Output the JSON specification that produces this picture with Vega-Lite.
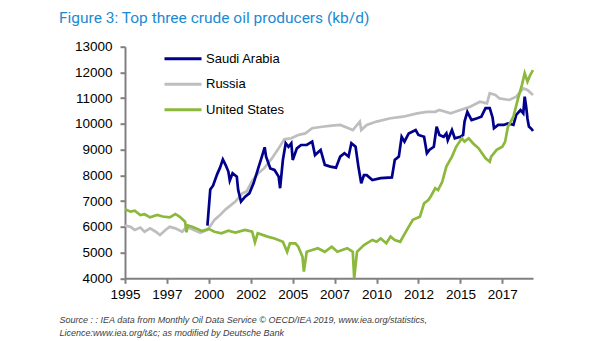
{
  "$schema": "https://vega.github.io/schema/vega-lite/v6.json",
  "width": 408,
  "height": 231.6,
  "autosize": {"type": "none"},
  "padding": {"left": 125, "top": 46.7, "right": 72, "bottom": 62.7},
  "background": "white",
  "title": {
    "text": "Figure 3: Top three crude oil producers (kb/d)",
    "anchor": "start",
    "frame": "group",
    "dx": -66,
    "offset": 1,
    "baseline": "alphabetic",
    "font": "Roboto",
    "fontSize": 15.5,
    "fontWeight": "normal",
    "color": "#1A8AD4"
  },
  "data": {
    "values": [
      {"country": "Russia", "month": "1995-01", "kbd": 6050},
      {"country": "Russia", "month": "1995-05", "kbd": 6000},
      {"country": "Russia", "month": "1995-08", "kbd": 5880},
      {"country": "Russia", "month": "1995-12", "kbd": 5970},
      {"country": "Russia", "month": "1996-03", "kbd": 5810},
      {"country": "Russia", "month": "1996-07", "kbd": 5940},
      {"country": "Russia", "month": "1996-11", "kbd": 5810},
      {"country": "Russia", "month": "1997-02", "kbd": 5680},
      {"country": "Russia", "month": "1997-06", "kbd": 5880},
      {"country": "Russia", "month": "1997-09", "kbd": 6000},
      {"country": "Russia", "month": "1998-01", "kbd": 5940},
      {"country": "Russia", "month": "1998-06", "kbd": 5810},
      {"country": "Russia", "month": "1998-09", "kbd": 6000},
      {"country": "Russia", "month": "1999-01", "kbd": 5910},
      {"country": "Russia", "month": "1999-07", "kbd": 5770},
      {"country": "Russia", "month": "1999-12", "kbd": 5880},
      {"country": "Russia", "month": "2000-02", "kbd": 6030},
      {"country": "Russia", "month": "2000-05", "kbd": 6270},
      {"country": "Russia", "month": "2000-09", "kbd": 6460},
      {"country": "Russia", "month": "2001-01", "kbd": 6680},
      {"country": "Russia", "month": "2001-08", "kbd": 6980},
      {"country": "Russia", "month": "2002-01", "kbd": 7300},
      {"country": "Russia", "month": "2002-04", "kbd": 7370},
      {"country": "Russia", "month": "2002-08", "kbd": 7780},
      {"country": "Russia", "month": "2002-12", "kbd": 8060},
      {"country": "Russia", "month": "2003-05", "kbd": 8300},
      {"country": "Russia", "month": "2003-10", "kbd": 8650},
      {"country": "Russia", "month": "2004-03", "kbd": 9050},
      {"country": "Russia", "month": "2004-07", "kbd": 9400},
      {"country": "Russia", "month": "2004-12", "kbd": 9440},
      {"country": "Russia", "month": "2005-05", "kbd": 9570},
      {"country": "Russia", "month": "2005-10", "kbd": 9630},
      {"country": "Russia", "month": "2006-03", "kbd": 9830},
      {"country": "Russia", "month": "2006-10", "kbd": 9890},
      {"country": "Russia", "month": "2007-05", "kbd": 9930},
      {"country": "Russia", "month": "2007-11", "kbd": 9960},
      {"country": "Russia", "month": "2008-05", "kbd": 9830},
      {"country": "Russia", "month": "2008-08", "kbd": 9760},
      {"country": "Russia", "month": "2009-01", "kbd": 10090},
      {"country": "Russia", "month": "2009-02", "kbd": 9760},
      {"country": "Russia", "month": "2009-06", "kbd": 9960},
      {"country": "Russia", "month": "2010-01", "kbd": 10090},
      {"country": "Russia", "month": "2010-11", "kbd": 10220},
      {"country": "Russia", "month": "2011-08", "kbd": 10280},
      {"country": "Russia", "month": "2012-06", "kbd": 10410},
      {"country": "Russia", "month": "2013-01", "kbd": 10470},
      {"country": "Russia", "month": "2013-07", "kbd": 10470},
      {"country": "Russia", "month": "2013-10", "kbd": 10540},
      {"country": "Russia", "month": "2014-06", "kbd": 10410},
      {"country": "Russia", "month": "2015-01", "kbd": 10540},
      {"country": "Russia", "month": "2015-08", "kbd": 10670},
      {"country": "Russia", "month": "2016-03", "kbd": 10860},
      {"country": "Russia", "month": "2016-08", "kbd": 10800},
      {"country": "Russia", "month": "2016-10", "kbd": 11190},
      {"country": "Russia", "month": "2017-02", "kbd": 11120},
      {"country": "Russia", "month": "2017-05", "kbd": 10990},
      {"country": "Russia", "month": "2017-12", "kbd": 10930},
      {"country": "Russia", "month": "2018-05", "kbd": 11060},
      {"country": "Russia", "month": "2018-10", "kbd": 11380},
      {"country": "Russia", "month": "2019-01", "kbd": 11320},
      {"country": "Russia", "month": "2019-05", "kbd": 11120},

      {"country": "Saudi Arabia", "month": "1999-12", "kbd": 6050},
      {"country": "Saudi Arabia", "month": "2000-02", "kbd": 7450},
      {"country": "Saudi Arabia", "month": "2000-04", "kbd": 7600},
      {"country": "Saudi Arabia", "month": "2000-07", "kbd": 8050},
      {"country": "Saudi Arabia", "month": "2000-09", "kbd": 8300},
      {"country": "Saudi Arabia", "month": "2000-11", "kbd": 8620},
      {"country": "Saudi Arabia", "month": "2001-01", "kbd": 8400},
      {"country": "Saudi Arabia", "month": "2001-03", "kbd": 8150},
      {"country": "Saudi Arabia", "month": "2001-04", "kbd": 7800},
      {"country": "Saudi Arabia", "month": "2001-06", "kbd": 8080},
      {"country": "Saudi Arabia", "month": "2001-09", "kbd": 7950},
      {"country": "Saudi Arabia", "month": "2001-10", "kbd": 7430},
      {"country": "Saudi Arabia", "month": "2001-12", "kbd": 6980},
      {"country": "Saudi Arabia", "month": "2002-03", "kbd": 7170},
      {"country": "Saudi Arabia", "month": "2002-06", "kbd": 7300},
      {"country": "Saudi Arabia", "month": "2002-09", "kbd": 7690},
      {"country": "Saudi Arabia", "month": "2002-12", "kbd": 8210},
      {"country": "Saudi Arabia", "month": "2003-03", "kbd": 8730},
      {"country": "Saudi Arabia", "month": "2003-05", "kbd": 9090},
      {"country": "Saudi Arabia", "month": "2003-06", "kbd": 8730},
      {"country": "Saudi Arabia", "month": "2003-09", "kbd": 8270},
      {"country": "Saudi Arabia", "month": "2003-12", "kbd": 8210},
      {"country": "Saudi Arabia", "month": "2004-03", "kbd": 7950},
      {"country": "Saudi Arabia", "month": "2004-04", "kbd": 7500},
      {"country": "Saudi Arabia", "month": "2004-06", "kbd": 8600},
      {"country": "Saudi Arabia", "month": "2004-08", "kbd": 9250},
      {"country": "Saudi Arabia", "month": "2004-10", "kbd": 9110},
      {"country": "Saudi Arabia", "month": "2004-12", "kbd": 9250},
      {"country": "Saudi Arabia", "month": "2005-01", "kbd": 8600},
      {"country": "Saudi Arabia", "month": "2005-04", "kbd": 9050},
      {"country": "Saudi Arabia", "month": "2005-07", "kbd": 9180},
      {"country": "Saudi Arabia", "month": "2005-11", "kbd": 9180},
      {"country": "Saudi Arabia", "month": "2006-03", "kbd": 9310},
      {"country": "Saudi Arabia", "month": "2006-05", "kbd": 8790},
      {"country": "Saudi Arabia", "month": "2006-09", "kbd": 8990},
      {"country": "Saudi Arabia", "month": "2006-12", "kbd": 8410},
      {"country": "Saudi Arabia", "month": "2007-04", "kbd": 8340},
      {"country": "Saudi Arabia", "month": "2007-08", "kbd": 8300},
      {"country": "Saudi Arabia", "month": "2007-11", "kbd": 8730},
      {"country": "Saudi Arabia", "month": "2008-02", "kbd": 8860},
      {"country": "Saudi Arabia", "month": "2008-05", "kbd": 8730},
      {"country": "Saudi Arabia", "month": "2008-07", "kbd": 9250},
      {"country": "Saudi Arabia", "month": "2008-10", "kbd": 9110},
      {"country": "Saudi Arabia", "month": "2008-12", "kbd": 8340},
      {"country": "Saudi Arabia", "month": "2009-02", "kbd": 7690},
      {"country": "Saudi Arabia", "month": "2009-04", "kbd": 8010},
      {"country": "Saudi Arabia", "month": "2009-06", "kbd": 8010},
      {"country": "Saudi Arabia", "month": "2009-10", "kbd": 7820},
      {"country": "Saudi Arabia", "month": "2010-04", "kbd": 7890},
      {"country": "Saudi Arabia", "month": "2010-12", "kbd": 7920},
      {"country": "Saudi Arabia", "month": "2011-02", "kbd": 8600},
      {"country": "Saudi Arabia", "month": "2011-05", "kbd": 8730},
      {"country": "Saudi Arabia", "month": "2011-07", "kbd": 9500},
      {"country": "Saudi Arabia", "month": "2011-09", "kbd": 9310},
      {"country": "Saudi Arabia", "month": "2011-12", "kbd": 9630},
      {"country": "Saudi Arabia", "month": "2012-05", "kbd": 9760},
      {"country": "Saudi Arabia", "month": "2012-07", "kbd": 9570},
      {"country": "Saudi Arabia", "month": "2012-11", "kbd": 9500},
      {"country": "Saudi Arabia", "month": "2013-01", "kbd": 8860},
      {"country": "Saudi Arabia", "month": "2013-03", "kbd": 9000},
      {"country": "Saudi Arabia", "month": "2013-06", "kbd": 9110},
      {"country": "Saudi Arabia", "month": "2013-08", "kbd": 9890},
      {"country": "Saudi Arabia", "month": "2013-10", "kbd": 9570},
      {"country": "Saudi Arabia", "month": "2014-01", "kbd": 9500},
      {"country": "Saudi Arabia", "month": "2014-03", "kbd": 9630},
      {"country": "Saudi Arabia", "month": "2014-04", "kbd": 9370},
      {"country": "Saudi Arabia", "month": "2014-07", "kbd": 9760},
      {"country": "Saudi Arabia", "month": "2014-09", "kbd": 9440},
      {"country": "Saudi Arabia", "month": "2015-01", "kbd": 9500},
      {"country": "Saudi Arabia", "month": "2015-03", "kbd": 9570},
      {"country": "Saudi Arabia", "month": "2015-04", "kbd": 10090},
      {"country": "Saudi Arabia", "month": "2015-06", "kbd": 10470},
      {"country": "Saudi Arabia", "month": "2015-09", "kbd": 10150},
      {"country": "Saudi Arabia", "month": "2016-01", "kbd": 10220},
      {"country": "Saudi Arabia", "month": "2016-04", "kbd": 10280},
      {"country": "Saudi Arabia", "month": "2016-07", "kbd": 10610},
      {"country": "Saudi Arabia", "month": "2016-10", "kbd": 10610},
      {"country": "Saudi Arabia", "month": "2016-12", "kbd": 10250},
      {"country": "Saudi Arabia", "month": "2017-01", "kbd": 9830},
      {"country": "Saudi Arabia", "month": "2017-04", "kbd": 9960},
      {"country": "Saudi Arabia", "month": "2017-08", "kbd": 9960},
      {"country": "Saudi Arabia", "month": "2017-11", "kbd": 10020},
      {"country": "Saudi Arabia", "month": "2018-03", "kbd": 9960},
      {"country": "Saudi Arabia", "month": "2018-05", "kbd": 10350},
      {"country": "Saudi Arabia", "month": "2018-08", "kbd": 10540},
      {"country": "Saudi Arabia", "month": "2018-10", "kbd": 10410},
      {"country": "Saudi Arabia", "month": "2018-11", "kbd": 11060},
      {"country": "Saudi Arabia", "month": "2018-12", "kbd": 10700},
      {"country": "Saudi Arabia", "month": "2019-01", "kbd": 10200},
      {"country": "Saudi Arabia", "month": "2019-02", "kbd": 9900},
      {"country": "Saudi Arabia", "month": "2019-04", "kbd": 9800},
      {"country": "Saudi Arabia", "month": "2019-05", "kbd": 9720},

      {"country": "United States", "month": "1995-01", "kbd": 6680},
      {"country": "United States", "month": "1995-05", "kbd": 6590},
      {"country": "United States", "month": "1995-08", "kbd": 6630},
      {"country": "United States", "month": "1995-12", "kbd": 6460},
      {"country": "United States", "month": "1996-03", "kbd": 6490},
      {"country": "United States", "month": "1996-07", "kbd": 6370},
      {"country": "United States", "month": "1996-12", "kbd": 6460},
      {"country": "United States", "month": "1997-04", "kbd": 6400},
      {"country": "United States", "month": "1997-09", "kbd": 6370},
      {"country": "United States", "month": "1998-01", "kbd": 6500},
      {"country": "United States", "month": "1998-04", "kbd": 6400},
      {"country": "United States", "month": "1998-08", "kbd": 6200},
      {"country": "United States", "month": "1998-09", "kbd": 5790},
      {"country": "United States", "month": "1998-10", "kbd": 6050},
      {"country": "United States", "month": "1999-01", "kbd": 6000},
      {"country": "United States", "month": "1999-04", "kbd": 5940},
      {"country": "United States", "month": "1999-08", "kbd": 5840},
      {"country": "United States", "month": "2000-01", "kbd": 5920},
      {"country": "United States", "month": "2000-05", "kbd": 5810},
      {"country": "United States", "month": "2000-10", "kbd": 5750},
      {"country": "United States", "month": "2001-03", "kbd": 5850},
      {"country": "United States", "month": "2001-08", "kbd": 5780},
      {"country": "United States", "month": "2002-03", "kbd": 5880},
      {"country": "United States", "month": "2002-08", "kbd": 5810},
      {"country": "United States", "month": "2002-10", "kbd": 5400},
      {"country": "United States", "month": "2002-12", "kbd": 5750},
      {"country": "United States", "month": "2003-07", "kbd": 5620},
      {"country": "United States", "month": "2003-12", "kbd": 5550},
      {"country": "United States", "month": "2004-06", "kbd": 5420},
      {"country": "United States", "month": "2004-09", "kbd": 5030},
      {"country": "United States", "month": "2004-11", "kbd": 5360},
      {"country": "United States", "month": "2005-03", "kbd": 5360},
      {"country": "United States", "month": "2005-05", "kbd": 5230},
      {"country": "United States", "month": "2005-08", "kbd": 4840},
      {"country": "United States", "month": "2005-09", "kbd": 4260},
      {"country": "United States", "month": "2005-11", "kbd": 5030},
      {"country": "United States", "month": "2006-03", "kbd": 5100},
      {"country": "United States", "month": "2006-07", "kbd": 5170},
      {"country": "United States", "month": "2006-12", "kbd": 5030},
      {"country": "United States", "month": "2007-05", "kbd": 5230},
      {"country": "United States", "month": "2007-09", "kbd": 5030},
      {"country": "United States", "month": "2008-04", "kbd": 5170},
      {"country": "United States", "month": "2008-08", "kbd": 5030},
      {"country": "United States", "month": "2008-09", "kbd": 4000},
      {"country": "United States", "month": "2008-11", "kbd": 5030},
      {"country": "United States", "month": "2009-04", "kbd": 5290},
      {"country": "United States", "month": "2009-10", "kbd": 5490},
      {"country": "United States", "month": "2010-01", "kbd": 5420},
      {"country": "United States", "month": "2010-04", "kbd": 5550},
      {"country": "United States", "month": "2010-08", "kbd": 5360},
      {"country": "United States", "month": "2010-11", "kbd": 5620},
      {"country": "United States", "month": "2011-02", "kbd": 5490},
      {"country": "United States", "month": "2011-06", "kbd": 5420},
      {"country": "United States", "month": "2011-08", "kbd": 5620},
      {"country": "United States", "month": "2011-12", "kbd": 6000},
      {"country": "United States", "month": "2012-03", "kbd": 6270},
      {"country": "United States", "month": "2012-08", "kbd": 6390},
      {"country": "United States", "month": "2012-11", "kbd": 6910},
      {"country": "United States", "month": "2013-02", "kbd": 7040},
      {"country": "United States", "month": "2013-04", "kbd": 7200},
      {"country": "United States", "month": "2013-07", "kbd": 7500},
      {"country": "United States", "month": "2013-09", "kbd": 7430},
      {"country": "United States", "month": "2013-12", "kbd": 7750},
      {"country": "United States", "month": "2014-03", "kbd": 8340},
      {"country": "United States", "month": "2014-07", "kbd": 8730},
      {"country": "United States", "month": "2014-10", "kbd": 9110},
      {"country": "United States", "month": "2015-02", "kbd": 9440},
      {"country": "United States", "month": "2015-04", "kbd": 9310},
      {"country": "United States", "month": "2015-07", "kbd": 9440},
      {"country": "United States", "month": "2015-10", "kbd": 9250},
      {"country": "United States", "month": "2016-02", "kbd": 9050},
      {"country": "United States", "month": "2016-07", "kbd": 8660},
      {"country": "United States", "month": "2016-10", "kbd": 8530},
      {"country": "United States", "month": "2016-11", "kbd": 8730},
      {"country": "United States", "month": "2017-03", "kbd": 8990},
      {"country": "United States", "month": "2017-07", "kbd": 9110},
      {"country": "United States", "month": "2017-09", "kbd": 9310},
      {"country": "United States", "month": "2017-11", "kbd": 9890},
      {"country": "United States", "month": "2018-03", "kbd": 10280},
      {"country": "United States", "month": "2018-06", "kbd": 10930},
      {"country": "United States", "month": "2018-09", "kbd": 11510},
      {"country": "United States", "month": "2018-11", "kbd": 11970},
      {"country": "United States", "month": "2019-01", "kbd": 11640},
      {"country": "United States", "month": "2019-03", "kbd": 11900},
      {"country": "United States", "month": "2019-05", "kbd": 12090}
    ]
  },
  "mark": {"type": "line", "strokeWidth": 2.7},
  "encoding": {
    "x": {
      "field": "month",
      "type": "temporal",
      "scale": {
        "type": "utc",
        "domain": [
          {"year": 1995, "month": 1, "date": 1, "utc": true},
          {"year": 2019, "month": 5, "date": 1, "utc": true}
        ]
      },
      "axis": {
        "title": [
          "Source : : IEA data from Monthly Oil Data Service © OECD/IEA 2019, www.iea.org/statistics,",
          "Licence:www.iea.org/t&c; as modified by Deutsche Bank"
        ],
        "titleFont": "Liberation Sans",
        "titleFontSize": 9,
        "titleFontStyle": "italic",
        "titleFontWeight": "normal",
        "titleColor": "#404040",
        "titleAnchor": "start",
        "titleAlign": "left",
        "titleBaseline": "alphabetic",
        "titleX": -66,
        "titleY": 44,
        "titleLineHeight": 13,
        "values": [
          {"year": 1995, "month": 1, "date": 1, "utc": true},
          {"year": 1997, "month": 7, "date": 1, "utc": true},
          {"year": 2000, "month": 1, "date": 1, "utc": true},
          {"year": 2002, "month": 7, "date": 1, "utc": true},
          {"year": 2005, "month": 1, "date": 1, "utc": true},
          {"year": 2007, "month": 7, "date": 1, "utc": true},
          {"year": 2010, "month": 1, "date": 1, "utc": true},
          {"year": 2012, "month": 7, "date": 1, "utc": true},
          {"year": 2015, "month": 1, "date": 1, "utc": true},
          {"year": 2017, "month": 7, "date": 1, "utc": true}
        ],
        "labelExpr": "utcFormat(datum.value, '%Y')",
        "labelFont": "Liberation Sans",
        "labelFontSize": 13.5,
        "labelColor": "#000000",
        "labelPadding": 4,
        "labelFlush": false,
        "labelOverlap": false,
        "tickSize": 5,
        "tickWidth": 2,
        "tickColor": "#808080",
        "domainColor": "#808080",
        "domainWidth": 2,
        "grid": false
      }
    },
    "y": {
      "field": "kbd",
      "type": "quantitative",
      "scale": {"domain": [4000, 13000], "nice": false, "zero": false},
      "axis": {
        "title": null,
        "values": [4000, 5000, 6000, 7000, 8000, 9000, 10000, 11000, 12000, 13000],
        "format": "d",
        "labelFont": "Liberation Sans",
        "labelFontSize": 13.5,
        "labelColor": "#000000",
        "labelPadding": 8,
        "tickSize": 5,
        "tickWidth": 2,
        "tickColor": "#808080",
        "domainColor": "#808080",
        "domainWidth": 2,
        "grid": false
      }
    },
    "color": {
      "field": "country",
      "type": "nominal",
      "scale": {
        "domain": ["Saudi Arabia", "Russia", "United States"],
        "range": ["#00008C", "#BEBEBE", "#8CB83C"]
      },
      "legend": {
        "title": null,
        "orient": "none",
        "legendX": 47,
        "legendY": 1,
        "padding": 0,
        "symbolType": "M-2,0H2",
        "symbolSize": 342,
        "symbolStrokeWidth": 3,
        "labelFont": "Liberation Sans",
        "labelFontSize": 13,
        "labelColor": "#000000",
        "labelOffset": 12,
        "rowPadding": 7.5
      }
    }
  },
  "config": {"view": {"stroke": null}}
}
